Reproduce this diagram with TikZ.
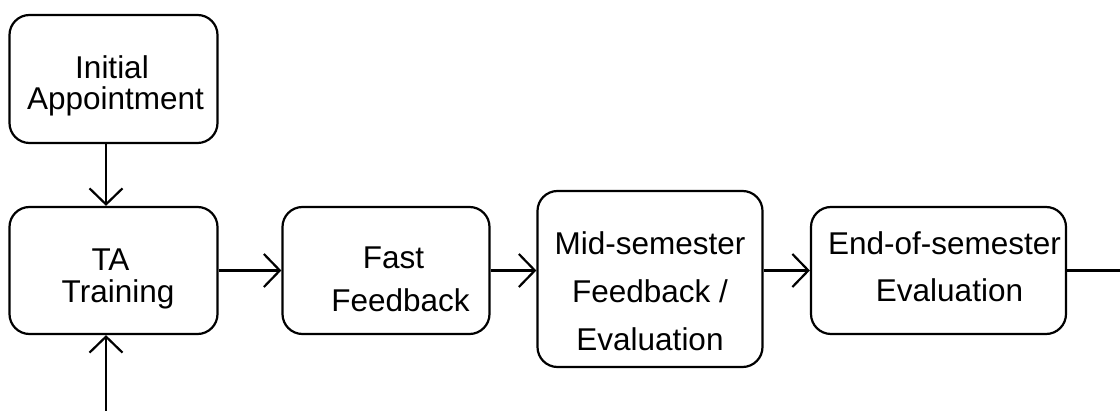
\documentclass[tikz,border=0pt]{standalone}
\usepackage{fontspec}
\setmainfont{Liberation Sans}
\usetikzlibrary{arrows.meta}
\begin{document}
\begin{tikzpicture}[x=1pt,y=-1pt,
  box/.style={draw, line width=2.2pt, rounded corners=20pt, inner sep=0pt},
  lbl/.style={align=center, inner sep=0pt, anchor=base,
              font=\fontsize{31.5}{32}\selectfont},
  flow/.style={line width=2.2pt, -{Straight Barb[length=16pt,width=33pt]}},
  plain/.style={line width=2.2pt},
]
\useasboundingbox (0,0) rectangle (1120,411);

% process boxes
\node[box, minimum width=208pt, minimum height=128pt] (ini) at (113.5,79) {};
\node[box, minimum width=208pt, minimum height=127pt] (ta)  at (113.5,270.5) {};
\node[box, minimum width=207pt, minimum height=127pt] (ff)  at (386,270.5) {};
\node[box, minimum width=225pt, minimum height=176pt] (mid) at (650,279) {};
\node[box, minimum width=255pt, minimum height=127pt] (eos) at (938.5,270.5) {};

% box texts (anchored at the baseline of the last line)
\node[lbl] (iniT) at (115.5,110) {Initial\hspace*{7pt}\\[-1pt]Appointment};
\node[lbl] (taT)  at (118,303)   {TA\hspace*{15pt}\\Training};
\node[lbl] (ffT)  at (400.5,312) {Fast\hspace*{14pt}\\[11pt]Feedback};
\node[lbl] (midT) at (650,351)   {Mid-semester\\[16.5pt]Feedback /\\[16pt]Evaluation};
\node[lbl] (eosT) at (944.5,302) {End-of-semester\\[15pt]\hspace*{10pt}Evaluation};

% loose ends of the flow
\coordinate (ax)  at (106,0);
\coordinate (in)  at (106,411);
\coordinate (out) at (1120,270.5);

% connectors
\draw[flow] (ini.south -| ax) -- (ta.north -| ax);
\draw[flow] (in) -- (ta.south -| in);
\draw[flow] (ta.east) -- (ff.west);
\draw[flow] (ff.east) -- (mid.west |- ff.east);
\draw[flow] (mid.east |- eos.west) -- (eos.west);
\draw[plain] (eos.east) -- (out);
\end{tikzpicture}
\end{document}
